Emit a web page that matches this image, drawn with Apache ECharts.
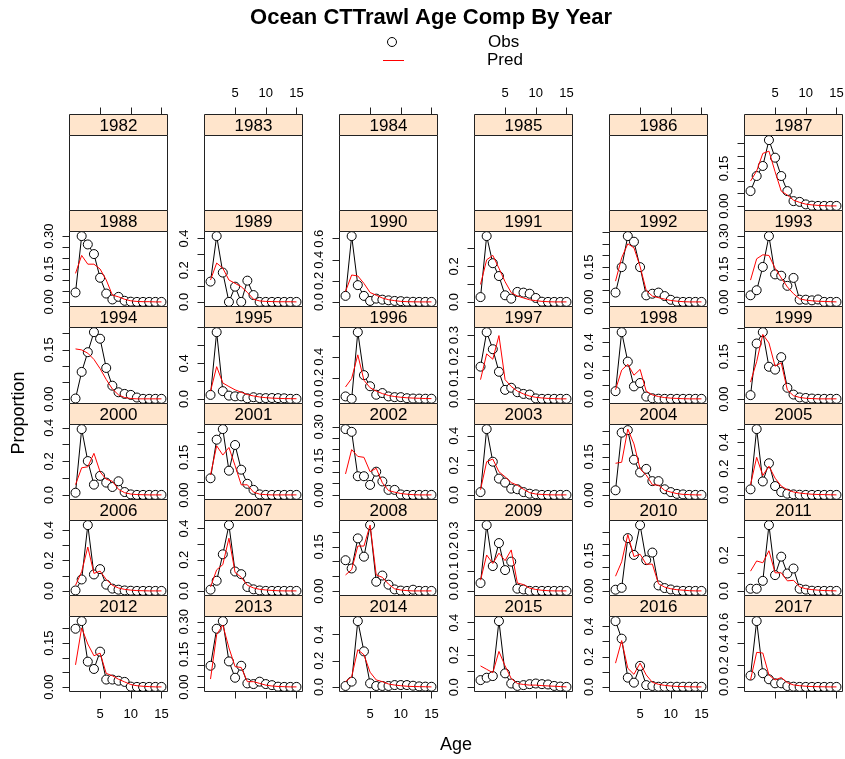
<!DOCTYPE html>
<html>
<head>
<meta charset="utf-8">
<title>Ocean CTTrawl Age Comp By Year</title>
<script src="https://cdn.jsdelivr.net/npm/echarts@6/dist/echarts.min.js"></script>
<style>
  html, body { margin: 0; padding: 0; background: #fff; }
  #chart { width: 845px; height: 759px; }
</style>
</head>
<body>
<div id="chart"></div>
<script>
// Lattice-style age composition panels: observed (circles) vs predicted (red) by year.

var years = [1982, 1983, 1984, 1985, 1986, 1987, 1988, 1989, 1990, 1991, 1992, 1993,
             1994, 1995, 1996, 1997, 1998, 1999, 2000, 2001, 2002, 2003, 2004, 2005,
             2006, 2007, 2008, 2009, 2010, 2011, 2012, 2013, 2014, 2015, 2016, 2017];
var ages = [1, 2, 3, 4, 5, 6, 7, 8, 9, 10, 11, 12, 13, 14, 15];

// null = no composition sampled that year
var obsValues = [
  null, null, null, null, null,
  [0.060, 0.120, 0.160, 0.263, 0.193, 0.120, 0.060, 0.020, 0.017, 0.007, 0.002, 0.001, 0.001, 0.001, 0.001], // 1987
  [0.043, 0.300, 0.262, 0.218, 0.110, 0.038, 0.011, 0.023, 0.005, 0.001, 0.000, 0.000, 0.000, 0.000, 0.000], // 1988
  [0.128, 0.415, 0.185, 0.000, 0.096, 0.000, 0.134, 0.043, 0.000, 0.000, 0.000, 0.000, 0.000, 0.000, 0.000], // 1989
  [0.058, 0.625, 0.160, 0.058, 0.010, 0.032, 0.022, 0.016, 0.010, 0.008, 0.003, 0.002, 0.001, 0.001, 0.001], // 1990
  [0.028, 0.370, 0.218, 0.146, 0.038, 0.019, 0.057, 0.053, 0.047, 0.023, 0.002, 0.001, 0.001, 0.001, 0.001], // 1991
  [0.041, 0.150, 0.283, 0.259, 0.150, 0.029, 0.036, 0.041, 0.026, 0.010, 0.002, 0.001, 0.001, 0.001, 0.001], // 1992
  [0.031, 0.054, 0.160, 0.300, 0.126, 0.120, 0.074, 0.110, 0.011, 0.011, 0.008, 0.012, 0.001, 0.001, 0.001], // 1993
  [0.002, 0.083, 0.143, 0.204, 0.184, 0.095, 0.041, 0.021, 0.016, 0.013, 0.005, 0.001, 0.001, 0.001, 0.001], // 1994
  [0.046, 0.750, 0.088, 0.038, 0.030, 0.030, 0.008, 0.020, 0.010, 0.010, 0.011, 0.010, 0.008, 0.002, 0.002], // 1995
  [0.023, 0.000, 0.635, 0.226, 0.120, 0.039, 0.055, 0.023, 0.016, 0.016, 0.006, 0.003, 0.002, 0.001, 0.001], // 1996
  [0.152, 0.314, 0.234, 0.128, 0.043, 0.053, 0.032, 0.024, 0.021, 0.003, 0.001, 0.001, 0.001, 0.001, 0.001], // 1997
  [0.055, 0.472, 0.264, 0.089, 0.113, 0.017, 0.005, 0.002, 0.001, 0.001, 0.001, 0.001, 0.001, 0.001, 0.001], // 1998
  [0.014, 0.196, 0.236, 0.114, 0.104, 0.148, 0.040, 0.016, 0.006, 0.004, 0.002, 0.001, 0.001, 0.001, 0.001], // 1999
  [0.014, 0.392, 0.202, 0.062, 0.114, 0.074, 0.048, 0.082, 0.018, 0.004, 0.001, 0.001, 0.001, 0.001, 0.001], // 2000
  [0.067, 0.220, 0.262, 0.097, 0.199, 0.101, 0.045, 0.021, 0.003, 0.001, 0.001, 0.001, 0.001, 0.001, 0.001], // 2001
  [0.290, 0.278, 0.083, 0.083, 0.045, 0.103, 0.060, 0.023, 0.023, 0.003, 0.001, 0.001, 0.001, 0.001, 0.001], // 2002
  [0.020, 0.445, 0.225, 0.111, 0.084, 0.043, 0.039, 0.020, 0.009, 0.005, 0.001, 0.001, 0.001, 0.001, 0.001], // 2003
  [0.019, 0.245, 0.255, 0.139, 0.089, 0.103, 0.055, 0.055, 0.023, 0.012, 0.005, 0.003, 0.001, 0.001, 0.001], // 2004
  [0.043, 0.500, 0.103, 0.241, 0.068, 0.023, 0.010, 0.005, 0.002, 0.001, 0.001, 0.001, 0.001, 0.001, 0.001], // 2005
  [0.004, 0.076, 0.433, 0.109, 0.144, 0.042, 0.016, 0.009, 0.004, 0.002, 0.001, 0.001, 0.001, 0.001, 0.001], // 2006
  [0.009, 0.066, 0.235, 0.422, 0.125, 0.108, 0.026, 0.011, 0.004, 0.001, 0.001, 0.001, 0.001, 0.001, 0.001], // 2007
  [0.105, 0.077, 0.179, 0.117, 0.224, 0.032, 0.053, 0.022, 0.006, 0.002, 0.001, 0.005, 0.001, 0.001, 0.001], // 2008
  [0.040, 0.327, 0.124, 0.238, 0.104, 0.146, 0.012, 0.008, 0.001, 0.001, 0.001, 0.001, 0.001, 0.001, 0.001], // 2009
  [0.006, 0.014, 0.224, 0.153, 0.279, 0.131, 0.163, 0.024, 0.013, 0.007, 0.002, 0.001, 0.001, 0.001, 0.001], // 2010
  [0.013, 0.013, 0.057, 0.368, 0.089, 0.192, 0.098, 0.126, 0.013, 0.008, 0.002, 0.001, 0.001, 0.001, 0.001], // 2011
  [0.199, 0.225, 0.087, 0.062, 0.121, 0.026, 0.026, 0.022, 0.018, 0.002, 0.001, 0.001, 0.001, 0.001, 0.001], // 2012
  [0.098, 0.268, 0.303, 0.118, 0.043, 0.098, 0.017, 0.014, 0.025, 0.014, 0.009, 0.002, 0.001, 0.001, 0.001], // 2013
  [0.008, 0.041, 0.503, 0.272, 0.028, 0.008, 0.008, 0.008, 0.015, 0.015, 0.015, 0.010, 0.005, 0.003, 0.002], // 2014
  [0.044, 0.059, 0.069, 0.410, 0.086, 0.023, 0.008, 0.013, 0.019, 0.023, 0.019, 0.017, 0.008, 0.004, 0.002], // 2015
  [0.436, 0.320, 0.062, 0.029, 0.140, 0.013, 0.007, 0.002, 0.002, 0.002, 0.002, 0.002, 0.002, 0.002, 0.002], // 2016
  [0.105, 0.607, 0.127, 0.071, 0.034, 0.034, 0.009, 0.003, 0.001, 0.001, 0.001, 0.001, 0.001, 0.001, 0.001]  // 2017
];

var predValues = [
  null, null, null, null, null,
  [0.100, 0.140, 0.210, 0.219, 0.137, 0.060, 0.044, 0.024, 0.015, 0.008, 0.005, 0.003, 0.002, 0.001, 0.001], // 1987
  [0.130, 0.212, 0.172, 0.172, 0.150, 0.100, 0.031, 0.023, 0.012, 0.005, 0.002, 0.001, 0.001, 0.000, 0.000], // 1988
  [0.138, 0.245, 0.213, 0.138, 0.117, 0.096, 0.060, 0.017, 0.006, 0.003, 0.002, 0.001, 0.001, 0.001, 0.000], // 1989
  [0.100, 0.256, 0.247, 0.176, 0.090, 0.064, 0.038, 0.022, 0.013, 0.006, 0.003, 0.002, 0.001, 0.001, 0.001], // 1990
  [0.099, 0.237, 0.262, 0.190, 0.114, 0.053, 0.034, 0.023, 0.013, 0.008, 0.004, 0.002, 0.001, 0.001, 0.001], // 1991
  [0.090, 0.190, 0.250, 0.233, 0.153, 0.050, 0.026, 0.019, 0.013, 0.007, 0.004, 0.002, 0.001, 0.001, 0.001], // 1992
  [0.100, 0.197, 0.215, 0.212, 0.154, 0.110, 0.069, 0.038, 0.015, 0.009, 0.006, 0.004, 0.003, 0.002, 0.001], // 1993
  [0.153, 0.150, 0.140, 0.121, 0.093, 0.060, 0.031, 0.013, 0.005, 0.002, 0.001, 0.001, 0.001, 0.001, 0.001], // 1994
  [0.088, 0.363, 0.180, 0.140, 0.103, 0.076, 0.050, 0.034, 0.023, 0.015, 0.010, 0.007, 0.005, 0.004, 0.003], // 1995
  [0.113, 0.194, 0.419, 0.177, 0.106, 0.074, 0.050, 0.032, 0.022, 0.015, 0.010, 0.007, 0.005, 0.003, 0.002], // 1996
  [0.091, 0.212, 0.187, 0.298, 0.091, 0.059, 0.037, 0.024, 0.014, 0.008, 0.005, 0.003, 0.002, 0.001, 0.001], // 1997
  [0.065, 0.204, 0.245, 0.168, 0.209, 0.055, 0.029, 0.017, 0.010, 0.006, 0.004, 0.002, 0.001, 0.001, 0.001], // 1998
  [0.060, 0.132, 0.228, 0.198, 0.116, 0.128, 0.032, 0.012, 0.006, 0.003, 0.002, 0.001, 0.001, 0.001, 0.001], // 1999
  [0.062, 0.162, 0.168, 0.248, 0.138, 0.094, 0.082, 0.034, 0.014, 0.006, 0.003, 0.002, 0.001, 0.001, 0.001], // 2000
  [0.080, 0.196, 0.159, 0.189, 0.117, 0.041, 0.041, 0.012, 0.004, 0.002, 0.001, 0.001, 0.001, 0.001, 0.001], // 2001
  [0.093, 0.200, 0.170, 0.166, 0.103, 0.118, 0.054, 0.020, 0.013, 0.007, 0.004, 0.002, 0.001, 0.001, 0.001], // 2002
  [0.036, 0.225, 0.243, 0.157, 0.123, 0.084, 0.066, 0.039, 0.016, 0.007, 0.004, 0.002, 0.001, 0.001, 0.001], // 2003
  [0.125, 0.129, 0.259, 0.201, 0.103, 0.079, 0.041, 0.039, 0.019, 0.012, 0.006, 0.003, 0.002, 0.001, 0.001], // 2004
  [0.078, 0.286, 0.148, 0.219, 0.128, 0.068, 0.040, 0.023, 0.015, 0.010, 0.006, 0.004, 0.003, 0.002, 0.001], // 2005
  [0.038, 0.127, 0.289, 0.116, 0.131, 0.076, 0.038, 0.020, 0.011, 0.006, 0.003, 0.002, 0.001, 0.001, 0.001], // 2006
  [0.026, 0.136, 0.169, 0.338, 0.119, 0.088, 0.037, 0.020, 0.011, 0.007, 0.004, 0.002, 0.001, 0.001, 0.001], // 2007
  [0.055, 0.073, 0.153, 0.153, 0.224, 0.055, 0.047, 0.024, 0.008, 0.004, 0.002, 0.001, 0.001, 0.001, 0.001], // 2008
  [0.054, 0.179, 0.137, 0.188, 0.151, 0.204, 0.040, 0.032, 0.015, 0.008, 0.004, 0.002, 0.001, 0.001, 0.001], // 2009
  [0.063, 0.124, 0.239, 0.146, 0.156, 0.114, 0.114, 0.031, 0.017, 0.010, 0.006, 0.004, 0.002, 0.001, 0.001], // 2010
  [0.111, 0.168, 0.158, 0.225, 0.102, 0.102, 0.057, 0.060, 0.023, 0.013, 0.008, 0.005, 0.003, 0.002, 0.001], // 2011
  [0.076, 0.202, 0.147, 0.107, 0.116, 0.047, 0.039, 0.027, 0.018, 0.009, 0.005, 0.003, 0.002, 0.001, 0.001], // 2012
  [0.037, 0.241, 0.285, 0.180, 0.094, 0.090, 0.025, 0.025, 0.017, 0.009, 0.005, 0.003, 0.002, 0.001, 0.001], // 2013
  [0.041, 0.079, 0.285, 0.246, 0.113, 0.054, 0.041, 0.023, 0.015, 0.010, 0.006, 0.004, 0.003, 0.002, 0.001], // 2014
  [0.132, 0.111, 0.090, 0.222, 0.132, 0.054, 0.023, 0.017, 0.013, 0.013, 0.010, 0.008, 0.006, 0.004, 0.002], // 2015
  [0.158, 0.307, 0.124, 0.084, 0.158, 0.080, 0.031, 0.018, 0.011, 0.007, 0.004, 0.003, 0.002, 0.001, 0.001], // 2016
  [0.065, 0.319, 0.313, 0.111, 0.065, 0.087, 0.040, 0.019, 0.012, 0.007, 0.004, 0.003, 0.002, 0.001, 0.001]  // 2017
];

// y tick spacing and the tick values that carry a label, per panel
var yStep = [null, null, null, null, null,
  0.05, 0.05, 0.1, 0.2, 0.1, 0.05, 0.05,
  0.05, 0.2, 0.2, 0.1, 0.1, 0.05,
  0.1, 0.05, 0.05, 0.1, 0.05, 0.1,
  0.1, 0.1, 0.05, 0.1, 0.05, 0.1,
  0.05, 0.05, 0.2, 0.1, 0.1, 0.2];
var yLabelValues = [null, null, null, null, null,
  [0, 0.15], [0, 0.15, 0.3], [0, 0.2, 0.4], [0, 0.2, 0.4, 0.6], [0, 0.2], [0, 0.15], [0, 0.15, 0.3],
  [0, 0.15], [0, 0.4], [0, 0.2, 0.4], [0, 0.1, 0.2, 0.3], [0, 0.2, 0.4], [0, 0.15],
  [0, 0.2, 0.4], [0, 0.15], [0, 0.15, 0.3], [0, 0.2, 0.4], [0, 0.15], [0, 0.2, 0.4],
  [0, 0.2, 0.4], [0, 0.2, 0.4], [0, 0.15], [0, 0.1, 0.2, 0.3], [0, 0.15], [0, 0.2],
  [0, 0.15], [0, 0.15, 0.3], [0, 0.2, 0.4], [0, 0.2, 0.4], [0, 0.2, 0.4], [0, 0.2, 0.4, 0.6]];
var xTickValues = [5, 10, 15];

// ---------------- layout ----------------
var FONT = "'Liberation Sans', Arial, Helvetica, sans-serif";
var INK = "#222";
var STRIP_FILL = "#ffe5cc";
var NCOL = 6;
var PANEL_W = 98;
var STRIP_H = 21;
function panelLeft(c) { return 69.5 + 135 * c; }
function stripTop(r) { return Math.round(114 + 96.2 * r) + 0.5; }

// lattice pads each scale by 7% of the data range
function padRange(lo, hi) {
  var p = 0.07 * (hi - lo);
  return [lo - p, hi + p];
}
var xRange = padRange(ages[0], ages[ages.length - 1]);

function yRangeFor(i) {
  var all = obsValues[i].concat(predValues[i]);
  return padRange(Math.min.apply(null, all), Math.max.apply(null, all));
}
function ticksFor(step, rng) {
  var out = [];
  for (var k = Math.ceil(rng[0] / step - 1e-9); k * step <= rng[1] + 1e-9; k++) {
    out.push(+(k * step).toFixed(4));
  }
  return out;
}

function xAxisFor(gridIndex, pos, show, labelled) {
  return {
    type: "value", gridIndex: gridIndex, min: xRange[0], max: xRange[1],
    show: show, position: pos,
    axisLine: { show: false, onZero: false },
    splitLine: { show: false },
    axisTick: { show: true, length: 7, customValues: xTickValues, lineStyle: { color: INK } },
    axisLabel: {
      show: labelled, customValues: xTickValues, margin: pos === "top" ? 15 : 16,
      fontSize: 13, color: "#000", fontFamily: FONT
    }
  };
}

var option = {
  animation: false,
  grid: [], xAxis: [], yAxis: [], series: [], graphic: []
};

years.forEach(function (yr, i) {
  var r = Math.floor(i / NCOL), c = i % NCOL;
  var left = panelLeft(c), sTop = stripTop(r);
  var pTop = sTop + STRIP_H, pBottom = stripTop(r + 1);
  var hasData = !!obsValues[i];

  option.grid.push({
    left: left, top: pTop, width: PANEL_W, height: pBottom - pTop,
    show: true, borderColor: INK, borderWidth: 1, backgroundColor: "transparent",
    outerBoundsMode: "none"
  });
  // bottom row carries the age axis, labelled on alternate columns
  option.xAxis.push(xAxisFor(i, "bottom", r === 5, c % 2 === 0));

  if (hasData) {
    var rng = yRangeFor(i);
    var dec = yStep[i] < 0.1 ? 2 : 1;
    option.yAxis.push({
      type: "value", gridIndex: i, min: rng[0], max: rng[1],
      axisLine: { show: false, onZero: false },
      splitLine: { show: false },
      axisTick: { show: true, length: 7, customValues: ticksFor(yStep[i], rng), lineStyle: { color: INK } },
      axisLabel: {
        customValues: yLabelValues[i], rotate: 90, margin: 14,
        fontSize: 13, color: "#000", fontFamily: FONT,
        formatter: function (v) { return Number(v).toFixed(dec); }
      }
    });
    option.series.push({
      type: "line", name: "Obs", xAxisIndex: i, yAxisIndex: i, silent: true,
      data: ages.map(function (a, k) { return [a, obsValues[i][k]]; }),
      symbol: "circle", symbolSize: 9,
      itemStyle: { color: "#fff", borderColor: "#000", borderWidth: 1 },
      lineStyle: { color: "#000", width: 1 },
      z: 2
    });
    option.series.push({
      type: "line", name: "Pred", xAxisIndex: i, yAxisIndex: i, silent: true,
      data: ages.map(function (a, k) { return [a, predValues[i][k]]; }),
      symbol: "none",
      lineStyle: { color: "#ff0000", width: 1 },
      z: 3
    });
  } else {
    option.yAxis.push({ type: "value", gridIndex: i, show: false, min: 0, max: 1 });
  }

  // strip with the year
  option.graphic.push({
    type: "rect", silent: true, z: 10,
    shape: { x: left, y: sTop, width: PANEL_W, height: STRIP_H },
    style: { fill: STRIP_FILL, stroke: INK, lineWidth: 1 }
  });
  option.graphic.push({
    type: "text", silent: true, z: 11,
    x: left + PANEL_W / 2, y: sTop + STRIP_H / 2 + 1,
    style: {
      text: String(yr), fill: "#000", font: "17px " + FONT,
      textAlign: "center", textVerticalAlign: "middle", align: "center", verticalAlign: "middle"
    }
  });
});

// top-row age axes sit above the strips: one empty grid over each first-row strip
for (var c = 0; c < NCOL; c++) {
  var gi = option.grid.length;
  option.grid.push({
    left: panelLeft(c), top: stripTop(0), width: PANEL_W, height: STRIP_H,
    show: false, outerBoundsMode: "none"
  });
  option.xAxis.push(xAxisFor(gi, "top", true, c % 2 === 1));
  option.yAxis.push({ type: "value", gridIndex: gi, show: false, min: 0, max: 1 });
}

function label(text, x, y, size, opts) {
  opts = opts || {};
  return {
    type: "text", silent: true, z: 11, x: x, y: y, rotation: opts.rotation || 0,
    style: {
      text: text, fill: "#000", font: (opts.bold ? "bold " : "") + size + "px " + FONT,
      textAlign: opts.align || "center", align: opts.align || "center",
      textVerticalAlign: "middle", verticalAlign: "middle"
    }
  };
}

option.graphic.push(label("Ocean CTTrawl Age Comp By Year", 431, 18, 22, { bold: true }));
option.graphic.push(label("Age", 456, 745, 18));
option.graphic.push(label("Proportion", 19, 413, 18, { rotation: Math.PI / 2 }));

// key
option.graphic.push({
  type: "circle", silent: true, z: 11,
  shape: { cx: 392, cy: 42, r: 4.5 },
  style: { fill: "#fff", stroke: "#000", lineWidth: 1 }
});
option.graphic.push(label("Obs", 488, 42, 17, { align: "left" }));
option.graphic.push({
  type: "line", silent: true, z: 11,
  shape: { x1: 383, y1: 60.5, x2: 404, y2: 60.5 },
  style: { stroke: "#ff0000", lineWidth: 1 }
});
option.graphic.push(label("Pred", 487, 60, 17, { align: "left" }));

var chart = echarts.init(document.getElementById("chart"), null, { renderer: "canvas" });
chart.setOption(option);
</script>
</body>
</html>
